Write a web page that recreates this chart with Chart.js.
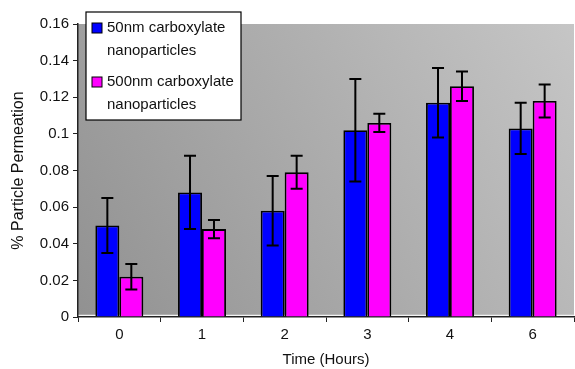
<!DOCTYPE html>
<html>
<head>
<meta charset="utf-8">
<script src="https://cdn.jsdelivr.net/npm/chart.js@4"></script>
<style>
  html, body { margin: 0; padding: 0; background: #fff; }
  #wrap { width: 575px; height: 369px; position: relative; }
</style>
</head>
<body>
<div id="wrap"><canvas id="chart"></canvas></div>
<script>
const hours = ['0', '1', '2', '3', '4', '6'];
const labels50 = ['50nm carboxylate', 'nanoparticles'];
const labels500 = ['500nm carboxylate', 'nanoparticles'];
const mean50 = [0.050, 0.068, 0.058, 0.102, 0.117, 0.103];
const err50 = [0.015, 0.020, 0.019, 0.028, 0.019, 0.014];
const mean500 = [0.022, 0.048, 0.079, 0.106, 0.126, 0.118];
const err500 = [0.007, 0.005, 0.009, 0.005, 0.008, 0.009];

const FONT = 'Arial, "Liberation Sans", sans-serif';

// gray gradient behind the plot, darker at bottom-left
const plotBackground = {
    id: 'plotBackground',
    beforeDraw(chart) {
        const { ctx, chartArea: a } = chart;
        const g = ctx.createLinearGradient(a.left, a.bottom, a.right, a.top);
        g.addColorStop(0, '#919191');
        g.addColorStop(1, '#c6c6c6');
        ctx.save();
        ctx.fillStyle = g;
        ctx.fillRect(a.left, a.top, a.right - a.left, a.bottom - a.top);
        ctx.strokeStyle = '#f4f4f4';
        ctx.lineWidth = 1.5;
        ctx.beginPath();
        ctx.moveTo(a.left, a.bottom - 1.5);
        ctx.lineTo(a.right, a.bottom - 1.5);
        ctx.stroke();
        ctx.restore();
    },
};

const errorBars = {
    id: 'errorBars',
    afterDatasetsDraw(chart) {
        const { ctx } = chart;
        const y = chart.scales.y;
        ctx.save();
        ctx.strokeStyle = '#000';
        ctx.lineWidth = 2;
        chart.data.datasets.forEach((ds, i) => {
            chart.getDatasetMeta(i).data.forEach((bar, j) => {
                const v = ds.data[j], e = ds.errors[j];
                const top = y.getPixelForValue(v + e);
                const bot = y.getPixelForValue(v - e);
                ctx.beginPath();
                ctx.moveTo(bar.x, top); ctx.lineTo(bar.x, bot);
                ctx.moveTo(bar.x - 6, top); ctx.lineTo(bar.x + 6, top);
                ctx.moveTo(bar.x - 6, bot); ctx.lineTo(bar.x + 6, bot);
                ctx.stroke();
            });
        });
        ctx.restore();
    },
};

const boxLegend = {
    id: 'boxLegend',
    afterDraw(chart) {
        const { ctx } = chart;
        const x = 86, y = 12, w = 155, h = 108;
        ctx.save();
        ctx.fillStyle = '#fff';
        ctx.fillRect(x, y, w, h);
        ctx.strokeStyle = '#000';
        ctx.lineWidth = 1.2;
        ctx.strokeRect(x, y, w, h);
        ctx.font = '15px ' + FONT;
        ctx.textBaseline = 'middle';
        chart.data.datasets.forEach((ds, i) => {
            const ly = y + 16 + i * 54;
            ctx.fillStyle = ds.backgroundColor;
            ctx.fillRect(x + 6, ly - 5, 10, 10);
            ctx.strokeStyle = '#000';
            ctx.lineWidth = 1;
            ctx.strokeRect(x + 6, ly - 5, 10, 10);
            ctx.fillStyle = '#111';
            ds.legendLines.forEach((t, k) => ctx.fillText(t, x + 21, ly + k * 23));
        });
        ctx.restore();
    },
};

new Chart(document.getElementById('chart'), {
    type: 'bar',
    data: {
        labels: hours,
        datasets: [
            { label: labels50.join(' '), legendLines: labels50, data: mean50, errors: err50,
              backgroundColor: '#0000ff', borderColor: '#000', borderWidth: 1.8 },
            { label: labels500.join(' '), legendLines: labels500, data: mean500, errors: err500,
              backgroundColor: '#ff00ff', borderColor: '#000', borderWidth: 1.8 },
        ],
    },
    options: {
        responsive: true,
        maintainAspectRatio: false,
        animation: false,
        layout: { padding: { top: 24, right: 1, left: 0, bottom: 0 } },
        datasets: { bar: { categoryPercentage: 0.58, barPercentage: 1.0 } },
        plugins: { legend: { display: false }, tooltip: { enabled: false } },
        scales: {
            x: {
                grid: { display: true, drawOnChartArea: false, drawTicks: true, tickLength: 5, color: '#222', offset: true },
                border: { color: '#222', width: 1.5 },
                ticks: { color: '#111', font: { size: 15, family: FONT }, padding: 4 },
                title: { display: true, text: 'Time (Hours)', color: '#111', font: { size: 15, family: FONT }, padding: { top: 6, bottom: 0 } },
                afterFit(s) { s.height = 52; },
            },
            y: {
                min: 0, max: 0.16,
                grid: { display: true, drawOnChartArea: false, drawTicks: true, tickLength: 5, color: '#222' },
                border: { color: '#222', width: 1.5 },
                ticks: {
                    stepSize: 0.02, color: '#111', font: { size: 15, family: FONT }, padding: 4,
                    callback: v => String(parseFloat(v.toFixed(2))),
                },
                title: { display: true, text: '% Particle Permeation', color: '#111', font: { size: 16, family: FONT }, padding: { top: 9, bottom: 0 } },
                afterFit(s) { s.width = 78; },
            },
        },
    },
    plugins: [plotBackground, errorBars, boxLegend],
});
</script>
</body>
</html>
